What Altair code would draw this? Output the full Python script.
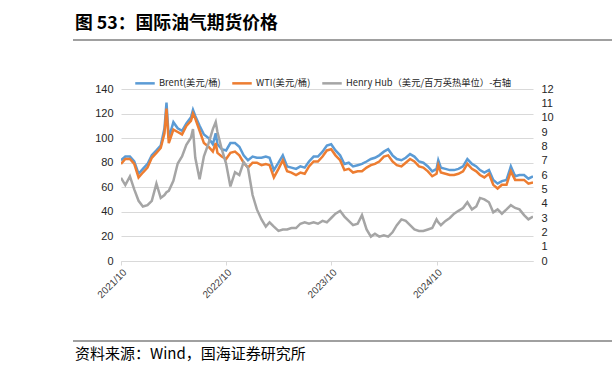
import altair as alt
import pandas as pd

dates = [
    "2021-10-01", "2021-10-16", "2021-11-01", "2021-11-16", "2021-12-01", "2021-12-16",
    "2022-01-01", "2022-01-16", "2022-02-01", "2022-02-16", "2022-03-01", "2022-03-08", "2022-03-16",
    "2022-04-01", "2022-04-16", "2022-05-01", "2022-05-16", "2022-06-01", "2022-06-08", "2022-06-16",
    "2022-07-01", "2022-07-16", "2022-08-01", "2022-08-16", "2022-08-26", "2022-09-01", "2022-09-16",
    "2022-10-01", "2022-10-16", "2022-11-01", "2022-11-16", "2022-12-01", "2022-12-16",
    "2023-01-01", "2023-01-16", "2023-02-01", "2023-02-16", "2023-03-01", "2023-03-16",
    "2023-04-01", "2023-04-16", "2023-05-01", "2023-05-16", "2023-06-01", "2023-06-16",
    "2023-07-01", "2023-07-16", "2023-08-01", "2023-08-16", "2023-09-01", "2023-09-16",
    "2023-10-01", "2023-10-16", "2023-11-01", "2023-11-16", "2023-12-01", "2023-12-16",
    "2024-01-01", "2024-01-16", "2024-02-01", "2024-02-16", "2024-03-01", "2024-03-16",
    "2024-04-01", "2024-04-16", "2024-05-01", "2024-05-16", "2024-06-01", "2024-06-16",
    "2024-07-01", "2024-07-16", "2024-08-01", "2024-08-16", "2024-09-01", "2024-09-16",
    "2024-10-01", "2024-10-07", "2024-10-16", "2024-11-01", "2024-11-16", "2024-12-01", "2024-12-16",
    "2025-01-01", "2025-01-16", "2025-02-01", "2025-02-16", "2025-03-01", "2025-03-16",
    "2025-04-01", "2025-04-16", "2025-05-01", "2025-05-16", "2025-06-01", "2025-06-16",
    "2025-07-01", "2025-07-16", "2025-08-01", "2025-08-16", "2025-09-01",
]

brent = [
    82, 85, 85, 81, 71, 75,
    79, 86, 90, 94, 108, 129, 100, 113, 108, 106, 112, 117, 123, 118, 110, 103, 100, 95, 104, 95, 91,
    90, 96, 96, 93, 86, 82,
    85, 84, 84, 85, 84, 74, 80, 86, 77, 76, 75, 77, 76, 81, 85, 85, 89, 94, 95, 90, 86, 79, 80, 77,
    78, 79, 81, 83, 84, 86, 89, 91, 86, 83, 82, 84, 87, 85, 81, 80, 77, 73, 75, 82, 76, 75, 74, 74, 75,
    77, 83, 79, 77, 74, 72, 74, 66, 63, 65, 66, 77, 69, 70, 70, 67, 69,
]

wti = [
    79, 83, 83, 79, 68, 72,
    76, 84, 88, 92, 104, 124, 96, 107, 105, 103, 110, 114, 120, 116, 106, 96, 93, 89, 96, 88, 85,
    83, 88, 89, 86, 80, 76,
    80, 80, 78, 79, 78, 68, 75, 82, 73, 72, 70, 72, 71, 77, 81, 81, 85, 90, 91, 86, 82, 74, 75, 72,
    73, 73, 76, 78, 79, 81, 85, 86, 81, 78, 77, 80, 83, 81, 77, 76, 73, 69, 71, 78, 72, 71, 70, 70, 71,
    73, 79, 75, 73, 70, 68, 71, 62, 59, 62, 62, 73, 66, 66, 66, 63, 64,
]

henry_hub = [
    5.8, 5.3, 5.9, 5.0, 4.2, 3.8,
    3.9, 4.2, 5.4, 4.4, 4.6, 4.8, 4.9, 5.6, 6.8, 7.3, 8.1, 8.6, 9.2, 7.2, 5.7, 7.3, 8.2, 9.2, 9.7, 9.0, 7.8,
    6.8, 5.2, 6.2, 6.0, 6.9, 6.5,
    4.6, 3.6, 2.9, 2.4, 2.7, 2.4, 2.1, 2.2, 2.2, 2.3, 2.3, 2.6, 2.7, 2.6, 2.7, 2.6, 2.8, 2.7, 3.0, 3.3, 3.5, 3.1, 2.8, 2.5,
    2.6, 3.2, 2.2, 1.7, 1.9, 1.7, 1.8, 1.7, 2.0, 2.5, 2.9, 2.8, 2.5, 2.2, 2.1, 2.1, 2.2, 2.3, 2.9, 2.7, 2.5, 2.8, 3.0, 3.3, 3.5,
    3.7, 4.1, 3.6, 3.8, 4.4, 4.3, 4.1, 3.4, 3.6, 3.3, 3.6, 3.9, 3.7, 3.6, 3.2, 2.9, 3.1,
]

series_names = ["Brent(美元/桶)", "WTI(美元/桶)", "Henry Hub（美元/百万英热单位）-右轴"]
series_colors = ["#5B9BD5", "#ED7D31", "#A5A5A5"]
left_ticks = [0, 20, 40, 60, 80, 100, 120, 140]
right_ticks = [0, 1, 2, 3, 4, 5, 6, 7, 8, 9, 10, 11, 12]
x_tick_years = [2021, 2022, 2023, 2024]

title_text = "图 53：国际油气期货价格"
source_text = "资料来源：Wind，国海证券研究所"

oil = pd.DataFrame({
    "date": dates * 2,
    "value": brent + wti,
    "series": [series_names[0]] * len(dates) + [series_names[1]] * len(dates),
    "order": [0] * len(dates) + [1] * len(dates),
})
gas = pd.DataFrame({"date": dates, "value": henry_hub, "series": series_names[2]})

NUM_FONT = "Liberation Sans"
CJK_FONT = "Noto Sans CJK SC"

x_enc = alt.X(
    "date:T",
    scale=alt.Scale(
        type="utc",
        domain=[alt.DateTime(year=2021, month=10, date=1, utc=True),
                alt.DateTime(year=2025, month=9, date=1, utc=True)],
        nice=False,
    ),
    axis=alt.Axis(
        values=[alt.DateTime(year=y, month=10, date=1, utc=True) for y in x_tick_years],
        labelExpr="utcFormat(datum.value, '%Y/%m')", labelAngle=-45, title=None, grid=False,
        domainColor="#D9D9D9", tickColor="#D9D9D9", tickSize=4,
        labelFont=NUM_FONT, labelFontSize=10, labelColor="#404040", labelPadding=2,
    ),
)

color_enc = alt.Color(
    "series:N",
    scale=alt.Scale(domain=series_names, range=series_colors),
    legend=alt.Legend(
        orient="none", direction="horizontal", columns=3, legendX=13, legendY=-17,
        title=None, symbolType="stroke", symbolStrokeWidth=2.5, symbolSize=380,
        labelFont=CJK_FONT, labelFontSize=9.3, labelColor="#262626", labelLimit=400,
        columnPadding=6, labelOffset=3,
    ),
)

oil_lines = alt.Chart(oil).mark_line(strokeWidth=2.5, clip=True).encode(
    x=x_enc,
    y=alt.Y("value:Q", scale=alt.Scale(domain=[0, 140], nice=False),
            axis=alt.Axis(values=left_ticks, title=None, domain=False, ticks=False,
                          gridColor="#D9D9D9", gridWidth=1, labelFont=NUM_FONT,
                          labelFontSize=11, labelColor="#262626", labelPadding=8)),
    color=color_enc,
    order="order:Q",
    detail="series:N",
)

gas_line = alt.Chart(gas).mark_line(strokeWidth=2.5, clip=True).encode(
    x=x_enc,
    y=alt.Y("value:Q", scale=alt.Scale(domain=[0, 12], nice=False),
            axis=alt.Axis(orient="right", values=right_ticks, title=None, domain=False,
                          ticks=False, grid=False, labelFont=NUM_FONT, labelFontSize=11,
                          labelColor="#262626", labelPadding=8)),
    color=color_enc,
)

one = pd.DataFrame({"t": [0]})

title_mark = alt.Chart(pd.DataFrame({"t": [title_text]})).mark_text(
    align="left", baseline="middle", font=CJK_FONT, fontSize=17.8, fontWeight="bold", color="#000000"
).encode(x=alt.value(75 - 121), y=alt.value(24 - 89), text="t:N")

source_mark = alt.Chart(pd.DataFrame({"t": [source_text]})).mark_text(
    align="left", baseline="middle", font=CJK_FONT, fontSize=15, color="#000000"
).encode(x=alt.value(75 - 121), y=alt.value(354 - 89), text="t:N")

top_rule = alt.Chart(one).mark_rule(color="#808080", strokeWidth=1.6).encode(
    x=alt.value(73 - 121), x2=alt.value(612 - 121), y=alt.value(40 - 89))
bottom_rule = alt.Chart(one).mark_rule(color="#808080", strokeWidth=1.6).encode(
    x=alt.value(73 - 121), x2=alt.value(612 - 121), y=alt.value(341 - 89))

chart = alt.layer(
    alt.layer(oil_lines, gas_line).resolve_scale(y="independent"),
    title_mark, source_mark, top_rule, bottom_rule,
).properties(
    width=412, height=172,
    autosize=alt.AutoSizeParams(type="none"),
    padding={"left": 121, "top": 89, "right": 79, "bottom": 116},
    background="#FFFFFF",
).configure_view(stroke=None)

chart.save("out.html", embed_options={"renderer": "svg", "actions": False})
